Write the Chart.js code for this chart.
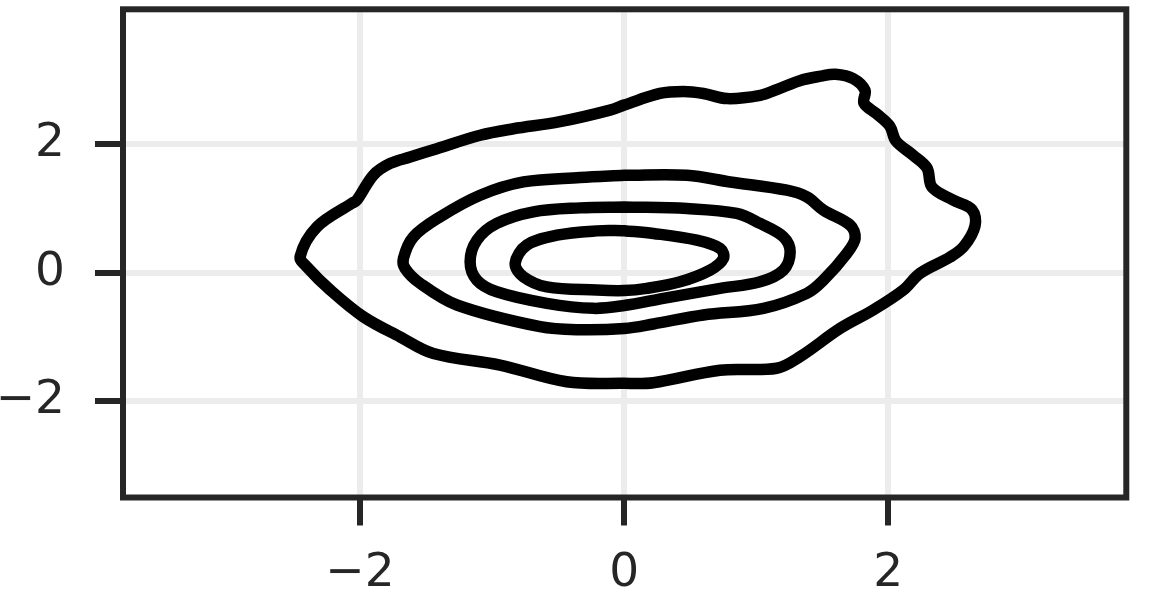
<!DOCTYPE html>
<html>
<head>
<meta charset="utf-8">
<script src="https://cdn.jsdelivr.net/npm/chart.js@4.4.0/dist/chart.umd.min.js"></script>
<style>
  html, body { margin: 0; padding: 0; background: #fff; }
  #wrap { width: 1150px; height: 594px; }
</style>
</head>
<body>
<div id="wrap"><canvas id="myChart" width="1150" height="594"></canvas></div>
<script>
// tick positions on both axes
var xTicks = [-2, 0, 2];
var yTicks = [-2, 0, 2];

// density contours (clockwise, starting at the top)
var outerX = [0, 0.27, 0.45, 0.60, 0.78, 1.03, 1.155, 1.33, 1.49, 1.60, 1.736, 1.824, 1.816, 1.914, 2.012, 2.058, 2.187, 2.293, 2.331, 2.49, 2.634, 2.657, 2.573, 2.467, 2.241, 2.114, 1.887, 1.635, 1.332, 1.155, 0.726, 0.221, 0, -0.435, -0.94, -1.444, -1.697, -1.973, -2.226, -2.402, -2.453, -2.326, -2.061, -2.023, -1.898, -1.771, -1.62, -1.418, -1.09, -0.838, -0.486, -0.107, 0];
var outerY = [2.61, 2.79, 2.82, 2.79, 2.71, 2.76, 2.85, 2.99, 3.06, 3.09, 3.02, 2.84, 2.64, 2.47, 2.28, 2.05, 1.83, 1.63, 1.33, 1.13, 0.98, 0.73, 0.41, 0.24, -0.01, -0.27, -0.58, -0.87, -1.31, -1.49, -1.52, -1.715, -1.725, -1.70, -1.44, -1.26, -1.0, -0.69, -0.27, 0.09, 0.25, 0.71, 1.08, 1.13, 1.52, 1.70, 1.80, 1.93, 2.14, 2.24, 2.35, 2.53, 2.61];

var secondX = [0, 0.475, 0.802, 1.232, 1.383, 1.509, 1.711, 1.749, 1.686, 1.509, 1.383, 1.055, 0.6, 0.222, 0, -0.333, -0.636, -1.266, -1.544, -1.658, -1.671, -1.595, -1.393, -1.09, -0.762, -0.333, 0];
var secondY = [1.516, 1.516, 1.412, 1.283, 1.179, 0.972, 0.739, 0.532, 0.299, -0.117, -0.323, -0.557, -0.661, -0.80, -0.87, -0.89, -0.843, -0.505, -0.168, 0.065, 0.221, 0.557, 0.868, 1.205, 1.412, 1.481, 1.516];

var thirdX = [0, 0.475, 0.853, 1.03, 1.206, 1.257, 1.206, 1.03, 0.727, 0.297, 0, -0.232, -0.585, -0.964, -1.115, -1.166, -1.115, -0.964, -0.687, -0.333, 0];
var thirdY = [1.023, 0.998, 0.921, 0.765, 0.557, 0.323, 0.039, -0.143, -0.246, -0.401, -0.513, -0.557, -0.479, -0.299, -0.117, 0.168, 0.505, 0.765, 0.946, 1.008, 1.023];

var innerX = [0, 0.222, 0.55, 0.727, 0.752, 0.651, 0.424, 0.172, 0, -0.207, -0.585, -0.762, -0.825, -0.737, -0.509, -0.207, 0];
var innerY = [0.653, 0.61, 0.505, 0.376, 0.221, 0.039, -0.143, -0.246, -0.28, -0.272, -0.221, -0.065, 0.143, 0.428, 0.583, 0.65, 0.653];

function toPoints(xs, ys) {
    var pts = [];
    for (var i = 0; i < xs.length; i++) {
        pts.push({x: xs[i], y: ys[i]});
    }
    return pts;
}

function contour(xs, ys) {
    return {
        data: toPoints(xs, ys),
        showLine: true,
        fill: false,
        borderColor: '#000000',
        borderWidth: 11.5,
        borderJoinStyle: 'round',
        borderCapStyle: 'round',
        pointRadius: 0,
        pointHoverRadius: 0,
        tension: 0.35
    };
}

function minusLabel(v) {
    return v < 0 ? '\u2212' + Math.abs(v) : '' + v;
}

// frame on all four sides, like the spines
var frame = {
    id: 'frame',
    afterDraw: function(chart) {
        var a = chart.chartArea, ctx = chart.ctx;
        ctx.save();
        ctx.strokeStyle = '#262626';
        ctx.lineWidth = 6;
        ctx.strokeRect(a.left, a.top, a.right - a.left, a.bottom - a.top);
        ctx.restore();
    }
};

var gridOpts = {
    color: '#ececec',
    lineWidth: 6,
    drawTicks: true,
    tickLength: 28,
    tickColor: '#262626',
    tickWidth: 6
};

var ctx = document.getElementById('myChart').getContext('2d');
var myChart = new Chart(ctx, {
    type: 'scatter',
    data: {
        datasets: [
            contour(outerX, outerY),
            contour(secondX, secondY),
            contour(thirdX, thirdY),
            contour(innerX, innerY)
        ]
    },
    options: {
        responsive: false,
        animation: false,
        layout: { padding: { top: 9.3, right: 23.7, left: 0, bottom: 0 } },
        plugins: { legend: { display: false }, tooltip: { enabled: false } },
        scales: {
            x: {
                type: 'linear',
                min: -3.794,
                max: 3.802,
                afterBuildTicks: function(s) { s.ticks = xTicks.map(function(v) { return {value: v}; }); },
                afterFit: function(s) {
                    s.height = 96.5;
                    s.paddingLeft = 0;
                    s.paddingRight = 0;
                },
                grid: gridOpts,
                border: { display: false },
                ticks: {
                    color: '#262626',
                    font: { family: 'DejaVu Sans', size: 47 },
                    padding: 20,
                    maxRotation: 0,
                    autoSkip: false,
                    callback: minusLabel
                }
            },
            y: {
                type: 'linear',
                min: -3.503,
                max: 4.101,
                afterBuildTicks: function(s) { s.ticks = yTicks.map(function(v) { return {value: v}; }); },
                afterFit: function(s) {
                    s.width = 123;
                    s.paddingTop = 0;
                    s.paddingBottom = 0;
                },
                grid: gridOpts,
                border: { display: false },
                ticks: {
                    color: '#262626',
                    font: { family: 'DejaVu Sans', size: 47 },
                    padding: 30,
                    autoSkip: false,
                    callback: minusLabel
                }
            }
        }
    },
    plugins: [frame]
});
</script>
</body>
</html>
